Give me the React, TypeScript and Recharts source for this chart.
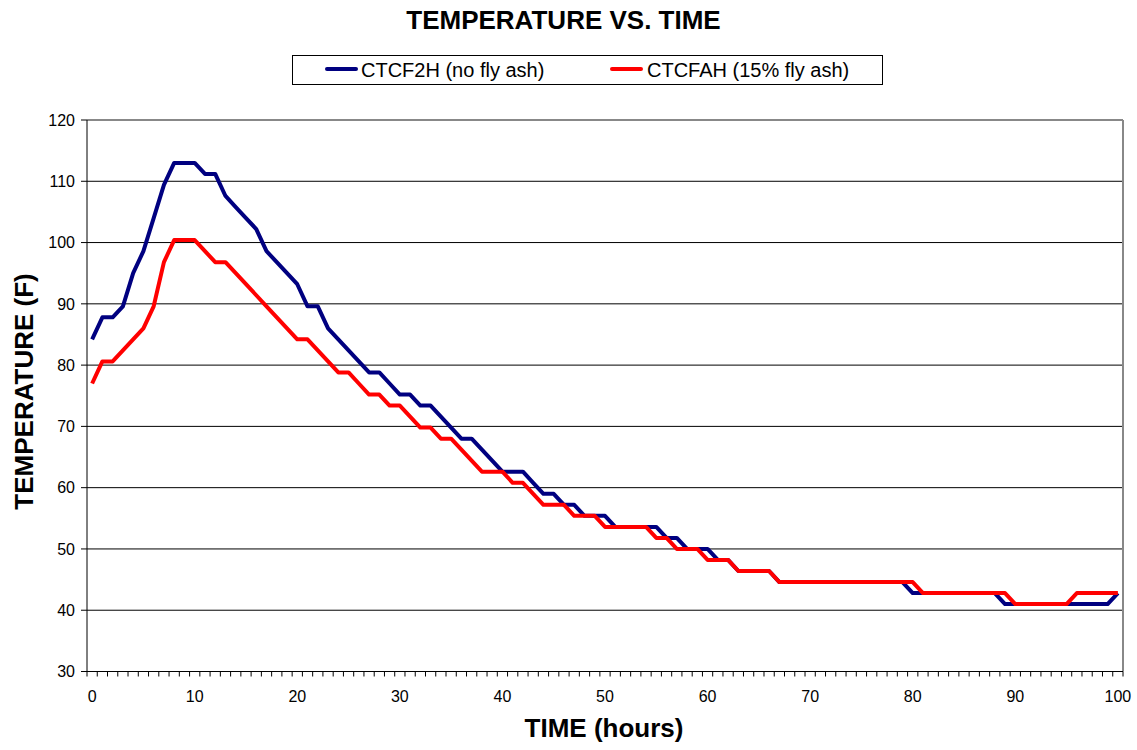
import { LineChart, Line, XAxis, YAxis, CartesianGrid, Legend, ReferenceLine } from 'recharts';

const hours = Array.from({ length: 101 }, (_, i) => i);

// CTCF2H (no fly ash)
const noFlyAsh = [
  84.2, 87.8, 87.8, 89.6, 95, 98.6, 104, 109.4, 113, 113,
  113, 111.2, 111.2, 107.6, 105.8, 104, 102.2, 98.6, 96.8, 95,
  93.2, 89.6, 89.6, 86, 84.2, 82.4, 80.6, 78.8, 78.8, 77,
  75.2, 75.2, 73.4, 73.4, 71.6, 69.8, 68, 68, 66.2, 64.4,
  62.6, 62.6, 62.6, 60.8, 59, 59, 57.2, 57.2, 55.4, 55.4,
  55.4, 53.6, 53.6, 53.6, 53.6, 53.6, 51.8, 51.8, 50, 50,
  50, 48.2, 48.2, 46.4, 46.4, 46.4, 46.4, 44.6, 44.6, 44.6,
  44.6, 44.6, 44.6, 44.6, 44.6, 44.6, 44.6, 44.6, 44.6, 44.6,
  42.8, 42.8, 42.8, 42.8, 42.8, 42.8, 42.8, 42.8, 42.8, 41,
  41, 41, 41, 41, 41, 41, 41, 41, 41, 41,
  42.8,
];

// CTCFAH (15% fly ash)
const flyAsh15 = [
  77, 80.6, 80.6, 82.4, 84.2, 86, 89.6, 96.8, 100.4, 100.4,
  100.4, 98.6, 96.8, 96.8, 95, 93.2, 91.4, 89.6, 87.8, 86,
  84.2, 84.2, 82.4, 80.6, 78.8, 78.8, 77, 75.2, 75.2, 73.4,
  73.4, 71.6, 69.8, 69.8, 68, 68, 66.2, 64.4, 62.6, 62.6,
  62.6, 60.8, 60.8, 59, 57.2, 57.2, 57.2, 55.4, 55.4, 55.4,
  53.6, 53.6, 53.6, 53.6, 53.6, 51.8, 51.8, 50, 50, 50,
  48.2, 48.2, 48.2, 46.4, 46.4, 46.4, 46.4, 44.6, 44.6, 44.6,
  44.6, 44.6, 44.6, 44.6, 44.6, 44.6, 44.6, 44.6, 44.6, 44.6,
  44.6, 42.8, 42.8, 42.8, 42.8, 42.8, 42.8, 42.8, 42.8, 42.8,
  41, 41, 41, 41, 41, 41, 42.8, 42.8, 42.8, 42.8,
  42.8,
];

const yTicks = [30, 40, 50, 60, 70, 80, 90, 100, 110, 120];

const data = hours.map((h, i) => ({ hour: h, noFlyAsh: noFlyAsh[i], flyAsh15: flyAsh15[i] }));

const FONT = '"Liberation Sans", Arial, sans-serif';
const PLOT_LEFT = 87;
const PLOT_RIGHT = 1123;
const HALF_STEP = (PLOT_RIGHT - PLOT_LEFT) / hours.length / 2;

function HourTick(props: any) {
  const { x, y, payload } = props;
  const v = payload.value;
  return (
    <g>
      <line x1={x - HALF_STEP} x2={x - HALF_STEP} y1={y} y2={y + 5} stroke='#000' />
      {v === 100 && <line x1={x + HALF_STEP} x2={x + HALF_STEP} y1={y} y2={y + 5} stroke='#000' />}
      {v % 10 === 0 && (
        <text x={x} y={y + 30} textAnchor='middle' fontSize={16} fontFamily={FONT} fill='#000'>
          {v}
        </text>
      )}
    </g>
  );
}

function LegendBox() {
  return (
    <div
      style={{
        position: 'relative',
        width: 591,
        height: 30,
        border: '1px solid #000',
        boxSizing: 'border-box',
        background: '#fff',
        fontFamily: FONT,
        fontSize: 20,
        lineHeight: '20px',
        color: '#000',
      }}
    >
      <div style={{ position: 'absolute', left: 32, top: 11, width: 33, height: 4, background: '#000080', borderRadius: 2 }} />
      <span style={{ position: 'absolute', left: 68, top: 4, whiteSpace: 'nowrap' }}>CTCF2H (no fly ash)</span>
      <div style={{ position: 'absolute', left: 317, top: 11, width: 33, height: 4, background: '#FF0000', borderRadius: 2 }} />
      <span style={{ position: 'absolute', left: 354, top: 4, whiteSpace: 'nowrap' }}>CTCFAH (15% fly ash)</span>
    </div>
  );
}

export default function App() {
  return (
    <div style={{ position: 'absolute', left: 0, top: 0, width: 1137, height: 750, background: '#fff' }}>
      <LineChart
        width={1137}
        height={750}
        data={data}
        margin={{ top: 120, right: 14, left: 27, bottom: 48.5 }}
      >
        <CartesianGrid vertical={false} stroke='#000' strokeWidth={1} />
        <XAxis
          dataKey='hour'
          type='number'
          domain={[-0.5, 100.5]}
          ticks={hours}
          interval={0}
          height={30}
          tickSize={0}
          tickMargin={0}
          tickLine={false}
          tick={<HourTick />}
          axisLine={{ stroke: '#000' }}
        />
        <YAxis
          type='number'
          domain={[30, 120]}
          ticks={yTicks}
          width={60}
          tickSize={6}
          tickMargin={6}
          tick={{ fontSize: 16, fill: '#000', fontFamily: FONT }}
          tickLine={{ stroke: '#000' }}
          axisLine={{ stroke: '#000' }}
        />
        <ReferenceLine y={120} stroke='#888' strokeWidth={2} />
        <ReferenceLine x={100.5} stroke='#888' strokeWidth={2} />
        <Legend
          layout='horizontal'
          verticalAlign='middle'
          align='center'
          content={() => <LegendBox />}
          wrapperStyle={{ left: 292, top: 55, width: 591, height: 30 }}
        />
        <Line
          type='linear'
          dataKey='noFlyAsh'
          stroke='#000080'
          strokeWidth={4}
          strokeLinejoin='round'
          dot={false}
          isAnimationActive={false}
        />
        <Line
          type='linear'
          dataKey='flyAsh15'
          stroke='#FF0000'
          strokeWidth={4}
          strokeLinejoin='round'
          dot={false}
          isAnimationActive={false}
        />
      </LineChart>
      <svg
        width={1137}
        height={750}
        style={{ position: 'absolute', left: 0, top: 0, pointerEvents: 'none' }}
        fontFamily={FONT}
        fontWeight='bold'
        fontSize={26}
      >
        <text x={563.5} y={29} textAnchor='middle'>TEMPERATURE VS. TIME</text>
        <text x={604} y={737} textAnchor='middle'>TIME (hours)</text>
        <text x={33} y={391.5} textAnchor='middle' transform='rotate(-90 33 391.5)'>
          TEMPERATURE (F)
        </text>
      </svg>
    </div>
  );
}
